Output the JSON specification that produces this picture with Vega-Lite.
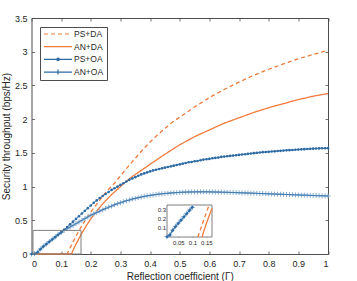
{
  "$schema": "https://vega.github.io/schema/vega-lite/v6.json",
  "width": 296.5,
  "height": 236,
  "autosize": {"type": "none"},
  "padding": {"left": 31.5, "top": 18, "right": 29, "bottom": 27},
  "config": {
    "font": "Liberation Sans",
    "view": {"stroke": "#4d4d4d", "strokeWidth": 1},
    "axis": {"grid": false, "domain": false, "tickColor": "#4d4d4d", "tickWidth": 0.8, "labelColor": "#262626", "titleColor": "#262626", "labelFontSize": 9, "titleFontSize": 10, "titleFontWeight": "normal", "tickSize": -3, "labelPadding": 8}
  },
  "datasets": {
    "box": [{"x0": 0.005, "x1": 0.167, "y0": 0, "y1": 0.35}],
    "ibox": [{"x0": 0.01, "x1": 0.17, "y0": 0, "y1": 0.345}],
    "orange": [
      {"s": "PS+DA", "x": 0, "y": 0}, {"s": "PS+DA", "x": 0.12, "y": 0}, {"s": "PS+DA", "x": 0.125, "y": 0.045}, {"s": "PS+DA", "x": 0.13, "y": 0.09}, {"s": "PS+DA", "x": 0.14, "y": 0.18}, {"s": "PS+DA", "x": 0.15, "y": 0.265}, {"s": "PS+DA", "x": 0.16, "y": 0.345}, {"s": "PS+DA", "x": 0.17, "y": 0.42}, {"s": "PS+DA", "x": 0.18, "y": 0.49}, {"s": "PS+DA", "x": 0.19, "y": 0.555}, {"s": "PS+DA", "x": 0.2, "y": 0.62}, {"s": "PS+DA", "x": 0.21, "y": 0.68}, {"s": "PS+DA", "x": 0.22, "y": 0.74}, {"s": "PS+DA", "x": 0.23, "y": 0.8}, {"s": "PS+DA", "x": 0.24, "y": 0.855}, {"s": "PS+DA", "x": 0.25, "y": 0.91}, {"s": "PS+DA", "x": 0.26, "y": 0.96}, {"s": "PS+DA", "x": 0.27, "y": 1.005}, {"s": "PS+DA", "x": 0.28, "y": 1.05}, {"s": "PS+DA", "x": 0.29, "y": 1.105}, {"s": "PS+DA", "x": 0.3, "y": 1.16}, {"s": "PS+DA", "x": 0.32, "y": 1.265}, {"s": "PS+DA", "x": 0.34, "y": 1.37}, {"s": "PS+DA", "x": 0.36, "y": 1.47}, {"s": "PS+DA", "x": 0.38, "y": 1.57}, {"s": "PS+DA", "x": 0.4, "y": 1.66}, {"s": "PS+DA", "x": 0.42, "y": 1.745}, {"s": "PS+DA", "x": 0.44, "y": 1.825}, {"s": "PS+DA", "x": 0.46, "y": 1.9}, {"s": "PS+DA", "x": 0.48, "y": 1.97}, {"s": "PS+DA", "x": 0.5, "y": 2.03}, {"s": "PS+DA", "x": 0.55, "y": 2.18}, {"s": "PS+DA", "x": 0.6, "y": 2.32}, {"s": "PS+DA", "x": 0.65, "y": 2.44}, {"s": "PS+DA", "x": 0.7, "y": 2.55}, {"s": "PS+DA", "x": 0.75, "y": 2.65}, {"s": "PS+DA", "x": 0.8, "y": 2.74}, {"s": "PS+DA", "x": 0.85, "y": 2.82}, {"s": "PS+DA", "x": 0.9, "y": 2.895}, {"s": "PS+DA", "x": 0.95, "y": 2.96}, {"s": "PS+DA", "x": 1, "y": 3.02},
      {"s": "AN+DA", "x": 0, "y": 0}, {"s": "AN+DA", "x": 0.135, "y": 0}, {"s": "AN+DA", "x": 0.14, "y": 0.055}, {"s": "AN+DA", "x": 0.15, "y": 0.145}, {"s": "AN+DA", "x": 0.16, "y": 0.23}, {"s": "AN+DA", "x": 0.17, "y": 0.31}, {"s": "AN+DA", "x": 0.18, "y": 0.385}, {"s": "AN+DA", "x": 0.19, "y": 0.455}, {"s": "AN+DA", "x": 0.2, "y": 0.52}, {"s": "AN+DA", "x": 0.21, "y": 0.58}, {"s": "AN+DA", "x": 0.22, "y": 0.635}, {"s": "AN+DA", "x": 0.23, "y": 0.69}, {"s": "AN+DA", "x": 0.24, "y": 0.74}, {"s": "AN+DA", "x": 0.25, "y": 0.79}, {"s": "AN+DA", "x": 0.26, "y": 0.835}, {"s": "AN+DA", "x": 0.27, "y": 0.88}, {"s": "AN+DA", "x": 0.28, "y": 0.92}, {"s": "AN+DA", "x": 0.29, "y": 0.96}, {"s": "AN+DA", "x": 0.3, "y": 1.0}, {"s": "AN+DA", "x": 0.32, "y": 1.08}, {"s": "AN+DA", "x": 0.34, "y": 1.15}, {"s": "AN+DA", "x": 0.36, "y": 1.21}, {"s": "AN+DA", "x": 0.38, "y": 1.27}, {"s": "AN+DA", "x": 0.4, "y": 1.33}, {"s": "AN+DA", "x": 0.45, "y": 1.48}, {"s": "AN+DA", "x": 0.5, "y": 1.62}, {"s": "AN+DA", "x": 0.55, "y": 1.74}, {"s": "AN+DA", "x": 0.6, "y": 1.84}, {"s": "AN+DA", "x": 0.65, "y": 1.94}, {"s": "AN+DA", "x": 0.7, "y": 2.02}, {"s": "AN+DA", "x": 0.75, "y": 2.1}, {"s": "AN+DA", "x": 0.8, "y": 2.17}, {"s": "AN+DA", "x": 0.85, "y": 2.23}, {"s": "AN+DA", "x": 0.9, "y": 2.29}, {"s": "AN+DA", "x": 0.95, "y": 2.34}, {"s": "AN+DA", "x": 1, "y": 2.38}
    ],
    "blue": [
      {"x": 0, "PS+OA": 0, "AN+OA": 0}, {"x": 0.01, "PS+OA": 0.003, "AN+OA": 0.004}, {"x": 0.02, "PS+OA": 0.02, "AN+OA": 0.025}, {"x": 0.03, "PS+OA": 0.07, "AN+OA": 0.075}, {"x": 0.04, "PS+OA": 0.11, "AN+OA": 0.115}, {"x": 0.05, "PS+OA": 0.145, "AN+OA": 0.15}, {"x": 0.06, "PS+OA": 0.18, "AN+OA": 0.185}, {"x": 0.07, "PS+OA": 0.215, "AN+OA": 0.22}, {"x": 0.08, "PS+OA": 0.25, "AN+OA": 0.255}, {"x": 0.09, "PS+OA": 0.285, "AN+OA": 0.29},
      {"x": 0.1, "PS+OA": 0.32, "AN+OA": 0.32}, {"x": 0.11, "PS+OA": 0.36, "AN+OA": 0.35}, {"x": 0.12, "PS+OA": 0.4, "AN+OA": 0.375}, {"x": 0.13, "PS+OA": 0.44, "AN+OA": 0.4}, {"x": 0.14, "PS+OA": 0.48, "AN+OA": 0.425}, {"x": 0.15, "PS+OA": 0.52, "AN+OA": 0.45}, {"x": 0.16, "PS+OA": 0.56, "AN+OA": 0.475}, {"x": 0.17, "PS+OA": 0.6, "AN+OA": 0.5}, {"x": 0.18, "PS+OA": 0.64, "AN+OA": 0.525}, {"x": 0.19, "PS+OA": 0.68, "AN+OA": 0.55},
      {"x": 0.2, "PS+OA": 0.72, "AN+OA": 0.575}, {"x": 0.21, "PS+OA": 0.76, "AN+OA": 0.595}, {"x": 0.22, "PS+OA": 0.795, "AN+OA": 0.615}, {"x": 0.23, "PS+OA": 0.83, "AN+OA": 0.635}, {"x": 0.24, "PS+OA": 0.86, "AN+OA": 0.655}, {"x": 0.25, "PS+OA": 0.89, "AN+OA": 0.675}, {"x": 0.26, "PS+OA": 0.92, "AN+OA": 0.695}, {"x": 0.27, "PS+OA": 0.95, "AN+OA": 0.71}, {"x": 0.28, "PS+OA": 0.975, "AN+OA": 0.73}, {"x": 0.29, "PS+OA": 1.0, "AN+OA": 0.745},
      {"x": 0.3, "PS+OA": 1.025, "AN+OA": 0.76}, {"x": 0.31, "PS+OA": 1.05, "AN+OA": 0.775}, {"x": 0.32, "PS+OA": 1.075, "AN+OA": 0.79}, {"x": 0.33, "PS+OA": 1.1, "AN+OA": 0.8}, {"x": 0.34, "PS+OA": 1.12, "AN+OA": 0.815}, {"x": 0.35, "PS+OA": 1.14, "AN+OA": 0.825}, {"x": 0.36, "PS+OA": 1.16, "AN+OA": 0.835}, {"x": 0.37, "PS+OA": 1.18, "AN+OA": 0.845}, {"x": 0.38, "PS+OA": 1.195, "AN+OA": 0.855}, {"x": 0.39, "PS+OA": 1.21, "AN+OA": 0.862},
      {"x": 0.4, "PS+OA": 1.225, "AN+OA": 0.87}, {"x": 0.41, "PS+OA": 1.24, "AN+OA": 0.876}, {"x": 0.42, "PS+OA": 1.25, "AN+OA": 0.882}, {"x": 0.43, "PS+OA": 1.26, "AN+OA": 0.888}, {"x": 0.44, "PS+OA": 1.27, "AN+OA": 0.893}, {"x": 0.45, "PS+OA": 1.28, "AN+OA": 0.897}, {"x": 0.46, "PS+OA": 1.29, "AN+OA": 0.901}, {"x": 0.47, "PS+OA": 1.3, "AN+OA": 0.905}, {"x": 0.48, "PS+OA": 1.31, "AN+OA": 0.908}, {"x": 0.49, "PS+OA": 1.32, "AN+OA": 0.911},
      {"x": 0.5, "PS+OA": 1.33, "AN+OA": 0.914}, {"x": 0.51, "PS+OA": 1.34, "AN+OA": 0.916}, {"x": 0.52, "PS+OA": 1.35, "AN+OA": 0.918}, {"x": 0.53, "PS+OA": 1.36, "AN+OA": 0.919}, {"x": 0.54, "PS+OA": 1.365, "AN+OA": 0.92}, {"x": 0.55, "PS+OA": 1.375, "AN+OA": 0.921}, {"x": 0.56, "PS+OA": 1.38, "AN+OA": 0.922}, {"x": 0.57, "PS+OA": 1.39, "AN+OA": 0.922}, {"x": 0.58, "PS+OA": 1.4, "AN+OA": 0.922}, {"x": 0.59, "PS+OA": 1.405, "AN+OA": 0.922},
      {"x": 0.6, "PS+OA": 1.41, "AN+OA": 0.921}, {"x": 0.61, "PS+OA": 1.42, "AN+OA": 0.92}, {"x": 0.62, "PS+OA": 1.425, "AN+OA": 0.919}, {"x": 0.63, "PS+OA": 1.43, "AN+OA": 0.918}, {"x": 0.64, "PS+OA": 1.44, "AN+OA": 0.917}, {"x": 0.65, "PS+OA": 1.445, "AN+OA": 0.916}, {"x": 0.66, "PS+OA": 1.45, "AN+OA": 0.915}, {"x": 0.67, "PS+OA": 1.455, "AN+OA": 0.913}, {"x": 0.68, "PS+OA": 1.46, "AN+OA": 0.912}, {"x": 0.69, "PS+OA": 1.465, "AN+OA": 0.91},
      {"x": 0.7, "PS+OA": 1.47, "AN+OA": 0.909}, {"x": 0.71, "PS+OA": 1.475, "AN+OA": 0.907}, {"x": 0.72, "PS+OA": 1.48, "AN+OA": 0.906}, {"x": 0.73, "PS+OA": 1.485, "AN+OA": 0.904}, {"x": 0.74, "PS+OA": 1.49, "AN+OA": 0.902}, {"x": 0.75, "PS+OA": 1.495, "AN+OA": 0.901}, {"x": 0.76, "PS+OA": 1.5, "AN+OA": 0.899}, {"x": 0.77, "PS+OA": 1.505, "AN+OA": 0.897}, {"x": 0.78, "PS+OA": 1.51, "AN+OA": 0.896}, {"x": 0.79, "PS+OA": 1.512, "AN+OA": 0.894},
      {"x": 0.8, "PS+OA": 1.515, "AN+OA": 0.892}, {"x": 0.81, "PS+OA": 1.52, "AN+OA": 0.891}, {"x": 0.82, "PS+OA": 1.523, "AN+OA": 0.889}, {"x": 0.83, "PS+OA": 1.527, "AN+OA": 0.887}, {"x": 0.84, "PS+OA": 1.53, "AN+OA": 0.886}, {"x": 0.85, "PS+OA": 1.534, "AN+OA": 0.884}, {"x": 0.86, "PS+OA": 1.537, "AN+OA": 0.882}, {"x": 0.87, "PS+OA": 1.54, "AN+OA": 0.881}, {"x": 0.88, "PS+OA": 1.543, "AN+OA": 0.879}, {"x": 0.89, "PS+OA": 1.546, "AN+OA": 0.877},
      {"x": 0.9, "PS+OA": 1.549, "AN+OA": 0.876}, {"x": 0.91, "PS+OA": 1.552, "AN+OA": 0.874}, {"x": 0.92, "PS+OA": 1.555, "AN+OA": 0.873}, {"x": 0.93, "PS+OA": 1.557, "AN+OA": 0.871}, {"x": 0.94, "PS+OA": 1.56, "AN+OA": 0.869}, {"x": 0.95, "PS+OA": 1.562, "AN+OA": 0.868}, {"x": 0.96, "PS+OA": 1.564, "AN+OA": 0.866}, {"x": 0.97, "PS+OA": 1.566, "AN+OA": 0.865}, {"x": 0.98, "PS+OA": 1.568, "AN+OA": 0.863}, {"x": 0.99, "PS+OA": 1.569, "AN+OA": 0.862},
      {"x": 1, "PS+OA": 1.57, "AN+OA": 0.86}
    ]
  },
  "layer": [
    {
      "data": {"name": "orange"},
      "mark": {"type": "line", "strokeWidth": 1.3},
      "encoding": {
        "x": {"field": "x", "type": "quantitative", "scale": {"domain": [0, 1], "nice": false, "zero": false},
              "axis": {"orient": "bottom", "title": "Reflection coefficient (Γ)", "values": [0, 0.1, 0.2, 0.3, 0.4, 0.5, 0.6, 0.7, 0.8, 0.9, 1], "format": "~g", "titlePadding": 3}},
        "y": {"field": "y", "type": "quantitative", "scale": {"domain": [0, 3.5], "nice": false},
              "axis": {"orient": "left", "title": "Security throughput (bps/Hz)", "values": [0, 0.5, 1, 1.5, 2, 2.5, 3, 3.5], "format": "~g", "labelPadding": 7.5, "titlePadding": 3}},
        "color": {"field": "s", "type": "nominal",
                  "scale": {"domain": ["PS+DA", "AN+DA", "PS+OA", "AN+OA"], "range": ["#f07a3a", "#f07a3a", "#2b6aa3", "#2b6aa3"]},
                  "legend": {"title": null, "orient": "none", "legendX": 8.5, "legendY": 9, "padding": 3, "strokeColor": "#4d4d4d", "fillColor": "white",
                             "labelFontSize": 8.5, "labelColor": "#262626", "labelOffset": 1, "symbolSize": 784, "symbolStrokeWidth": 1.2,
                             "clipHeight": 8, "rowPadding": 3.7, "symbolType": "M-1,0H1",
                             "encode": {"symbols": {"update": {
                               "shape": {"signal": "datum.value === 'PS+OA' ? 'M-1,0H1M0.09,0A0.09,0.09 0 1,1 -0.09,0A0.09,0.09 0 1,1 0.09,0' : datum.value === 'AN+OA' ? 'M-1,0H1M0,-0.18V0.18' : 'M-1,0H1'"},
                               "fill": {"signal": "datum.value === 'PS+OA' ? '#2b6aa3' : 'transparent'"}}}}}},
        "strokeDash": {"field": "s", "type": "nominal", "scale": {"domain": ["PS+DA", "AN+DA", "PS+OA", "AN+OA"], "range": [[4, 3], [1, 0], [1, 0], [1, 0]]}}
      }
    },
    {
      "data": {"name": "blue"},
      "transform": [{"fold": ["AN+OA"], "as": ["s", "y"]}],
      "mark": {"type": "point", "shape": "M-1,0H1M0,-1V1", "size": 25, "filled": false, "color": "#84acd3", "strokeWidth": 1, "opacity": 1},
      "encoding": {
        "x": {"field": "x", "type": "quantitative", "scale": {"domain": [0, 1], "nice": false, "zero": false}, "axis": null},
        "y": {"field": "y", "type": "quantitative", "scale": {"domain": [0, 3.5], "nice": false}, "axis": null}
      }
    },
    {
      "data": {"name": "blue"},
      "transform": [{"fold": ["PS+OA", "AN+OA"], "as": ["s", "y"]}],
      "mark": {"type": "line", "strokeWidth": 1},
      "encoding": {
        "x": {"field": "x", "type": "quantitative", "scale": {"domain": [0, 1], "nice": false, "zero": false}, "axis": null},
        "y": {"field": "y", "type": "quantitative", "scale": {"domain": [0, 3.5], "nice": false}, "axis": null},
        "color": {"field": "s", "type": "nominal"},
        "strokeDash": {"field": "s", "type": "nominal"}
      }
    },
    {
      "data": {"name": "blue"},
      "transform": [{"fold": ["PS+OA"], "as": ["s", "y"]}],
      "mark": {"type": "point", "shape": "circle", "size": 7, "filled": true, "color": "#2b6aa3", "opacity": 1},
      "encoding": {
        "x": {"field": "x", "type": "quantitative", "scale": {"domain": [0, 1], "nice": false, "zero": false}, "axis": null},
        "y": {"field": "y", "type": "quantitative", "scale": {"domain": [0, 3.5], "nice": false}, "axis": null}
      }
    },
    {
      "data": {"name": "box"},
      "mark": {"type": "rect", "filled": false, "stroke": "#7f7f7f", "strokeWidth": 1},
      "encoding": {
        "x": {"field": "x0", "type": "quantitative", "scale": {"domain": [0, 1], "nice": false, "zero": false},
              "axis": {"orient": "top", "labels": false, "title": null, "values": [0, 0.1, 0.2, 0.3, 0.4, 0.5, 0.6, 0.7, 0.8, 0.9, 1]}},
        "x2": {"field": "x1"},
        "y": {"field": "y0", "type": "quantitative", "scale": {"domain": [0, 3.5], "nice": false},
              "axis": {"orient": "right", "labels": false, "title": null, "values": [0, 0.5, 1, 1.5, 2, 2.5, 3, 3.5]}},
        "y2": {"field": "y1"}
      }
    },
    {
      "data": {"name": "ibox"},
      "mark": {"type": "rect", "fill": "white", "stroke": "#7f7f7f", "strokeWidth": 1},
      "encoding": {
        "x": {"field": "x0", "type": "quantitative", "scale": {"domain": [0.01, 0.17], "range": [135.5, 180.5], "nice": false, "zero": false},
              "axis": {"orient": "bottom", "offset": -17, "values": [0.05, 0.1, 0.15], "format": "~g", "title": null, "labelFontSize": 6, "tickSize": -2, "labelPadding": 4}},
        "x2": {"field": "x1"},
        "y": {"field": "y0", "type": "quantitative", "scale": {"domain": [0, 0.345], "range": [219, 187], "nice": false},
              "axis": {"orient": "left", "offset": -135.5, "values": [0.1, 0.2, 0.3], "format": "~g", "title": null, "labelFontSize": 6, "tickSize": -2, "labelPadding": 3.5}},
        "y2": {"field": "y1"}
      }
    },
    {
      "data": {"name": "orange"},
      "transform": [{"filter": "datum.x >= 0.01 && datum.x <= 0.17 && datum.y <= 0.345"}],
      "mark": {"type": "line", "strokeWidth": 1.3},
      "encoding": {
        "x": {"field": "x", "type": "quantitative", "scale": {"domain": [0.01, 0.17], "range": [135.5, 180.5], "nice": false, "zero": false}, "axis": null},
        "y": {"field": "y", "type": "quantitative", "scale": {"domain": [0, 0.345], "range": [219, 187], "nice": false}, "axis": null},
        "color": {"field": "s", "type": "nominal"},
        "strokeDash": {"field": "s", "type": "nominal"}
      }
    },
    {
      "data": {"name": "blue"},
      "transform": [{"fold": ["AN+OA"], "as": ["s", "y"]}, {"filter": "datum.x >= 0.01 && datum.x <= 0.17 && datum.y <= 0.345"}],
      "mark": {"type": "point", "shape": "M-1,0H1M0,-1V1", "size": 25, "filled": false, "color": "#84acd3", "strokeWidth": 1, "opacity": 1},
      "encoding": {
        "x": {"field": "x", "type": "quantitative", "scale": {"domain": [0.01, 0.17], "range": [135.5, 180.5], "nice": false, "zero": false}, "axis": null},
        "y": {"field": "y", "type": "quantitative", "scale": {"domain": [0, 0.345], "range": [219, 187], "nice": false}, "axis": null}
      }
    },
    {
      "data": {"name": "blue"},
      "transform": [{"fold": ["PS+OA", "AN+OA"], "as": ["s", "y"]}, {"filter": "datum.x >= 0.01 && datum.x <= 0.17 && datum.y <= 0.345"}],
      "mark": {"type": "line", "strokeWidth": 1},
      "encoding": {
        "x": {"field": "x", "type": "quantitative", "scale": {"domain": [0.01, 0.17], "range": [135.5, 180.5], "nice": false, "zero": false}, "axis": null},
        "y": {"field": "y", "type": "quantitative", "scale": {"domain": [0, 0.345], "range": [219, 187], "nice": false}, "axis": null},
        "color": {"field": "s", "type": "nominal"},
        "strokeDash": {"field": "s", "type": "nominal"}
      }
    },
    {
      "data": {"name": "blue"},
      "transform": [{"fold": ["PS+OA"], "as": ["s", "y"]}, {"filter": "datum.x >= 0.01 && datum.x <= 0.17 && datum.y <= 0.345"}],
      "mark": {"type": "point", "shape": "circle", "size": 7, "filled": true, "color": "#2b6aa3", "opacity": 1},
      "encoding": {
        "x": {"field": "x", "type": "quantitative", "scale": {"domain": [0.01, 0.17], "range": [135.5, 180.5], "nice": false, "zero": false}, "axis": null},
        "y": {"field": "y", "type": "quantitative", "scale": {"domain": [0, 0.345], "range": [219, 187], "nice": false}, "axis": null}
      }
    }
  ],
  "resolve": {"scale": {"x": "independent", "y": "independent"}, "axis": {"x": "independent", "y": "independent"}}
}
